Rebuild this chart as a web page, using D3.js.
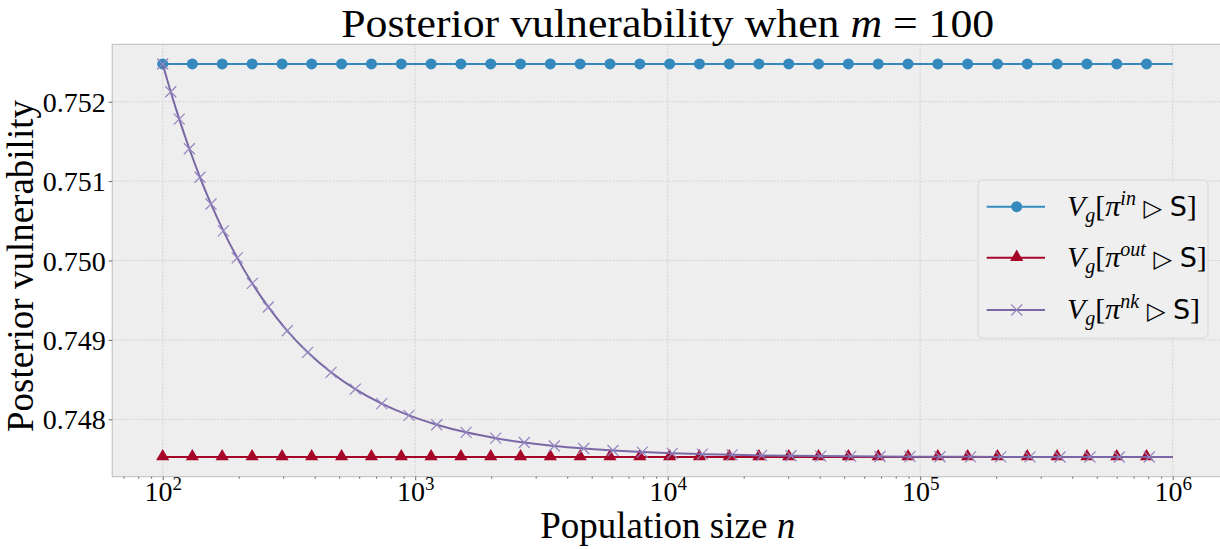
<!DOCTYPE html>
<html>
<head>
<meta charset="utf-8">
<script src="https://cdn.jsdelivr.net/npm/d3@7"></script>
<style>
  body { margin: 0; background: #fff; }
  svg { display: block; overflow: hidden; }
  .tick text { font-family: "Liberation Serif", serif; fill: #000; }
</style>
</head>
<body>
<div id="chart"></div>
<script>
// population sizes where the pi^in / pi^out markers sit (last point = end of line, no marker)
const nGrid = [100, 131, 172, 226, 297, 389, 511, 671, 881, 1156, 1517, 1991, 2613, 3430, 4502,
  5908, 7755, 10178, 13359, 17534, 22972, 30151, 39573, 51940, 68172, 89477, 117440, 154140,
  202310, 265530, 348510, 457430, 600380, 788000, 1000000];

const vIn = [0.752475, 0.752475, 0.752475, 0.752475, 0.752475, 0.752475, 0.752475, 0.752475,
  0.752475, 0.752475, 0.752475, 0.752475, 0.752475, 0.752475, 0.752475, 0.752475, 0.752475,
  0.752475, 0.752475, 0.752475, 0.752475, 0.752475, 0.752475, 0.752475, 0.752475, 0.752475,
  0.752475, 0.752475, 0.752475, 0.752475, 0.752475, 0.752475, 0.752475, 0.752475, 0.752475];

const vOut = [0.747525, 0.747525, 0.747525, 0.747525, 0.747525, 0.747525, 0.747525, 0.747525,
  0.747525, 0.747525, 0.747525, 0.747525, 0.747525, 0.747525, 0.747525, 0.747525, 0.747525,
  0.747525, 0.747525, 0.747525, 0.747525, 0.747525, 0.747525, 0.747525, 0.747525, 0.747525,
  0.747525, 0.747525, 0.747525, 0.747525, 0.747525, 0.747525, 0.747525, 0.747525, 0.747525];

// pi^nk curve, read at its x markers
const nNk = [100, 107.6, 116.3, 127.5, 140.5, 155.3, 173.8, 197.4, 226.4, 261.9, 311.4, 375.2,
  464.1, 579, 736.9, 945, 1217, 1590, 2084, 2704, 3555, 4648, 6073, 7931, 10429, 13710, 17976,
  23572, 30790, 40355, 53053, 69300, 91100, 119800, 158200, 208400, 272200, 357800, 470300,
  614500, 807900, 1000000];

const vNk = [0.752475, 0.752125, 0.751781, 0.751407, 0.751048, 0.750712, 0.750373, 0.750033,
  0.749711, 0.749415, 0.749115, 0.748844, 0.748592, 0.74838, 0.748197, 0.748049, 0.747932,
  0.747836, 0.747763, 0.747708, 0.747664, 0.747632, 0.747607, 0.747587, 0.747572, 0.747561,
  0.747553, 0.747546, 0.747541, 0.747537, 0.747534, 0.747532, 0.74753, 0.747529, 0.747528,
  0.747527, 0.747527, 0.747526, 0.747526, 0.747526, 0.747526, 0.747525];

const xTicks = [1e2, 1e3, 1e4, 1e5, 1e6];
const xTickExp = ["2", "3", "4", "5", "6"];
const yTicks = [0.748, 0.749, 0.750, 0.751, 0.752];

const W = 1220, H = 549;
const margin = { top: 44.3, right: -3.2, bottom: 72.3, left: 112.2 };
const width = W - margin.left - margin.right,
      height = H - margin.top - margin.bottom;

const svg = d3.select("#chart").append("svg")
  .attr("width", W).attr("height", H);

const g = svg.append("g").attr("transform", `translate(${margin.left},${margin.top})`);

// matplotlib-like 5% margins
const x = d3.scaleLog().domain([Math.pow(10, 1.8), Math.pow(10, 6.2)]).range([0, width]);
const yMin = d3.min(vOut), yMax = d3.max(vIn), pad = (yMax - yMin) * 0.05;
const y = d3.scaleLinear().domain([yMin - pad, yMax + pad]).range([height, 0]);

g.append("rect").attr("width", width).attr("height", height).attr("fill", "#eeeeee");

// grid
g.append("g").selectAll("line").data(xTicks).join("line")
  .attr("x1", d => x(d)).attr("x2", d => x(d)).attr("y1", 0).attr("y2", height)
  .attr("stroke", "#cfcfcf").attr("stroke-width", 0.9).attr("stroke-dasharray", "2,1.5");
g.append("g").selectAll("line").data(yTicks).join("line")
  .attr("x1", 0).attr("x2", width).attr("y1", d => y(d)).attr("y2", d => y(d))
  .attr("stroke", "#cfcfcf").attr("stroke-width", 0.9).attr("stroke-dasharray", "2,1.5");

g.append("rect").attr("width", width).attr("height", height)
  .attr("fill", "none").attr("stroke", "#bcbcbc").attr("stroke-width", 1);

// axes
const minorTicks = [];
for (let e = 1; e <= 6; e++) for (let k = 2; k <= 9; k++) {
  const v = k * Math.pow(10, e);
  if (v > x.domain()[0] && v < x.domain()[1]) minorTicks.push(v);
}
const xMinor = g.append("g").attr("transform", `translate(0,${height})`)
  .call(d3.axisBottom(x).tickValues(minorTicks).tickSize(2).tickFormat(""));
xMinor.select(".domain").remove();
xMinor.selectAll("line").attr("stroke", "#444").attr("stroke-width", 0.8);

const xAxis = g.append("g").attr("transform", `translate(0,${height})`)
  .call(d3.axisBottom(x).tickValues(xTicks).tickSize(3.5).tickPadding(4).tickFormat(""));
xAxis.select(".domain").remove();
xAxis.selectAll("line").attr("stroke", "#444").attr("stroke-width", 0.8);
xAxis.selectAll(".tick text").each(function(d, i) {
  const t = d3.select(this).attr("y", 24.5).attr("dy", null).style("font-size", "28px");
  t.append("tspan").text("10");
  t.append("tspan").attr("dy", -11).style("font-size", "19px").text(xTickExp[i]);
});

const yAxis = g.append("g")
  .call(d3.axisLeft(y).tickValues(yTicks).tickSize(3.5).tickPadding(3).tickFormat(d3.format(".3f")));
yAxis.select(".domain").remove();
yAxis.selectAll("line").attr("stroke", "#444").attr("stroke-width", 0.8);
yAxis.selectAll(".tick text").style("font-size", "28px").attr("dy", "0.34em");

// lines
const line = d3.line().x(d => x(d[0])).y(d => y(d[1]));
const curve = d3.line().x(d => x(d[0])).y(d => y(d[1])).curve(d3.curveMonotoneX);

const inData = d3.zip(nGrid, vIn), outData = d3.zip(nGrid, vOut), nkData = d3.zip(nNk, vNk);

const blue = "#348ABD", red = "#A60628", purple = "#7A68A6";
const tri = d3.symbol().type(d3.symbolTriangle).size(75);

g.append("path").datum(inData).attr("d", line)
  .attr("fill", "none").attr("stroke", blue).attr("stroke-width", 2);
g.append("g").selectAll("circle").data(inData.slice(0, -1)).join("circle")
  .attr("cx", d => x(d[0])).attr("cy", d => y(d[1])).attr("r", 5.5).attr("fill", blue);

g.append("path").datum(outData).attr("d", line)
  .attr("fill", "none").attr("stroke", red).attr("stroke-width", 2);
g.append("g").selectAll("path").data(outData.slice(0, -1)).join("path")
  .attr("transform", d => `translate(${x(d[0])},${y(d[1]) - 0.5})`)
  .attr("d", tri).attr("fill", red);

g.append("path").datum(nkData).attr("d", curve)
  .attr("fill", "none").attr("stroke", purple).attr("stroke-width", 2);
const xMark = "M-5.5,-5.5L5.5,5.5M-5.5,5.5L5.5,-5.5";
g.append("g").selectAll("path").data(nkData.slice(0, -1)).join("path")
  .attr("transform", d => `translate(${x(d[0])},${y(d[1])})`)
  .attr("d", xMark).attr("fill", "none").attr("stroke", "#9385c0").attr("stroke-width", 1.2);

// titles
const serif = "'Liberation Serif', serif";
svg.append("text").attr("x", margin.left + width / 2).attr("y", 37)
  .attr("text-anchor", "middle").attr("textLength", 653).attr("lengthAdjust", "spacingAndGlyphs")
  .style("font-family", serif).style("font-size", "40px")
  .html('Posterior vulnerability when <tspan font-style="italic">m</tspan> = 100');
svg.append("text").attr("x", margin.left + width / 2).attr("y", 538)
  .attr("text-anchor", "middle").style("font-family", serif).style("font-size", "37px")
  .html('Population size <tspan font-style="italic">n</tspan>');
svg.append("text").attr("transform", "translate(33,266) rotate(-90)")
  .attr("text-anchor", "middle").style("font-family", serif).style("font-size", "37px")
  .text("Posterior vulnerability");

// legend
const legend = svg.append("g").attr("transform", "translate(978,180)");
legend.append("rect").attr("width", 230).attr("height", 158).attr("rx", 5)
  .attr("fill", "#eeeeee").attr("fill-opacity", 0.85).attr("stroke", "#d6d6d6");

const legendItems = [
  { sup: "in", color: blue, mark: "circle" },
  { sup: "out", color: red, mark: "tri" },
  { sup: "nk", color: purple, mark: "x" }
];
const rowY = [26.7, 77.7, 130];
legendItems.forEach((it, i) => {
  const row = legend.append("g").attr("transform", `translate(0,${rowY[i]})`);
  row.append("line").attr("x1", 8.7).attr("x2", 67).attr("stroke", it.color).attr("stroke-width", 2);
  if (it.mark === "circle") row.append("circle").attr("cx", 38.7).attr("r", 5.5).attr("fill", it.color);
  if (it.mark === "tri") row.append("path").attr("transform", "translate(38.7,-0.5)").attr("d", tri).attr("fill", it.color);
  if (it.mark === "x") row.append("path").attr("transform", "translate(38.7,0)").attr("d", xMark)
    .attr("fill", "none").attr("stroke", "#9385c0").attr("stroke-width", 1.2);
  const t = row.append("text").attr("x", 89).attr("y", 9)
    .style("font-family", serif).style("font-size", "30px");
  t.append("tspan").attr("font-style", "italic").text("V");
  t.append("tspan").attr("font-style", "italic").attr("dy", 6).style("font-size", "20px").text("g");
  t.append("tspan").attr("dy", -6).text("[");
  t.append("tspan").attr("font-style", "italic").text("π");
  t.append("tspan").attr("font-style", "italic").attr("dy", -11).style("font-size", "20px").text(it.sup);
  t.append("tspan").attr("dy", 11).style("font-family", "'DejaVu Sans', sans-serif").style("font-size", "24px").text(" ▷ ");
  t.append("tspan").style("font-family", "'DejaVu Sans', sans-serif").style("font-size", "27px").text("S");
  t.append("tspan").text("]");
});
</script>
</body>
</html>
